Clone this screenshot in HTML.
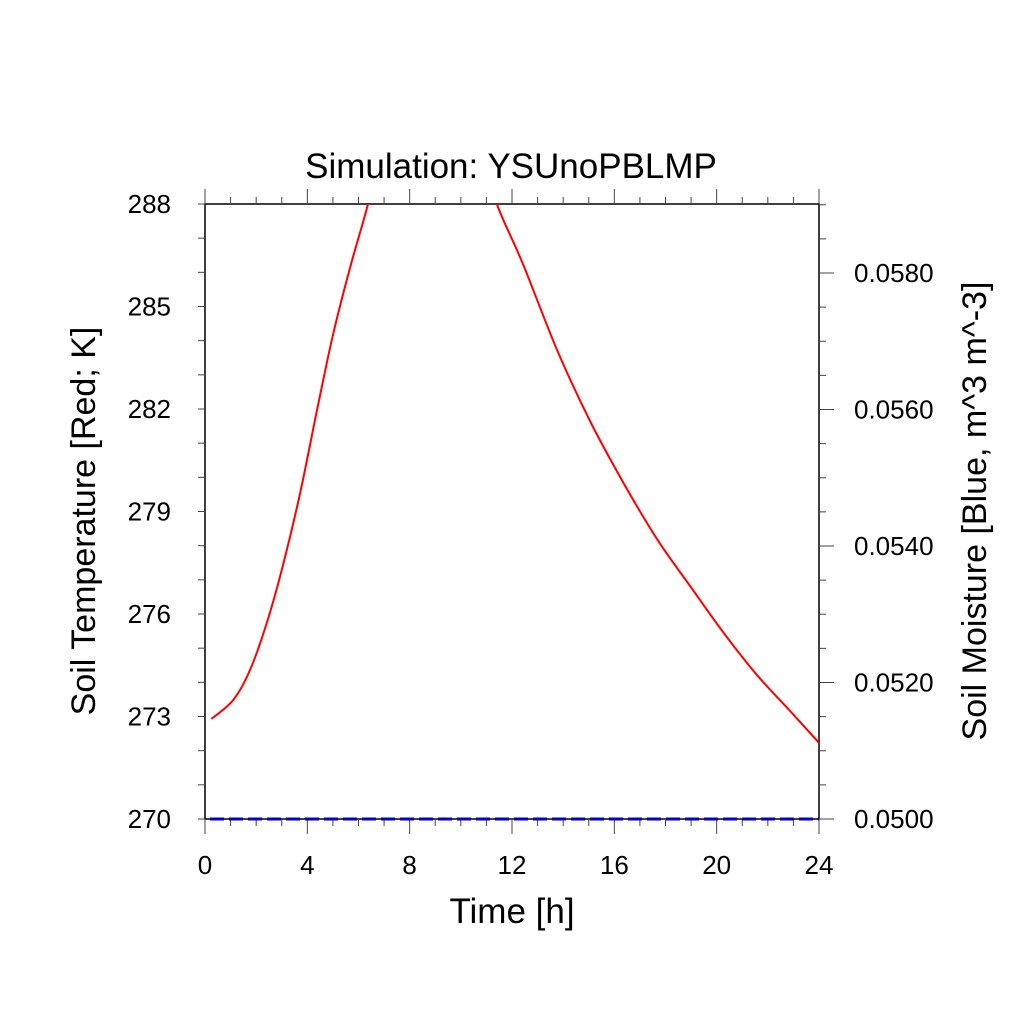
<!DOCTYPE html>
<html><head><meta charset="utf-8"><style>
html,body{margin:0;padding:0;background:#fff;}
text{font-family:"Liberation Sans",sans-serif;fill:#000;}
</style></head><body>
<svg id="chart" width="1024" height="1024" viewBox="0 0 1024 1024" xmlns="http://www.w3.org/2000/svg">
<rect width="1024" height="1024" fill="#fff"/>
<text x="511" y="178" font-size="35" text-anchor="middle">Simulation: YSUnoPBLMP</text>
<g id="axes"></g>
<g id="series"></g>
<text x="512" y="923" font-size="35" text-anchor="middle">Time [h]</text>
<text transform="translate(95,521) rotate(-90)" font-size="34" text-anchor="middle">Soil Temperature [Red; K]</text>
<text transform="translate(986,511) rotate(-90)" font-size="34" text-anchor="middle">Soil Moisture [Blue, m^3 m^-3]</text>
</svg>
<script>
const timeH = [0.25,1.1,1.76,2.42,3.05,3.71,4.38,5.0,5.67,6.37,7,8,9,10,11,11.41,12.43,13.76,15.05,16.34,17.67,18.96,20.25,21.58,22.87,24];
const soilTemp = [272.93,273.48,274.36,275.75,277.43,279.51,281.98,284.16,286.14,288.0,290.0,292.5,293.5,292.5,289.3,288.0,286.24,283.73,281.65,279.86,278.19,276.82,275.47,274.21,273.16,272.23];
const moistTime = [0,24];
const soilMoist = [0.0500,0.0500];
const xTicks = [0,4,8,12,16,20,24];
const yTicksL = [270,273,276,279,282,285,288];
const yTicksR = ["0.0500","0.0520","0.0540","0.0560","0.0580"];

const X0=205,X1=819,Y0=819,Y1=204;
const xs=t=>X0+(t/24)*(X1-X0);
const yL=v=>Y0-(v-270)/18*(Y0-Y1);
const RMAX=0.05+0.008*(Y0-Y1)/546;
const yR=v=>Y0-(v-0.05)/(RMAX-0.05)*(Y0-Y1);
const NS="http://www.w3.org/2000/svg";
const axes=document.getElementById('axes'), ser=document.getElementById('series');
function mk(tag,at,parent){const e=document.createElementNS(NS,tag);for(const k in at)e.setAttribute(k,at[k]);parent.appendChild(e);return e;}
function ln(x1,y1,x2,y2,w,c){return mk('line',{x1,y1,x2,y2,stroke:c||'#000','stroke-width':w||1.5},axes);}
const fr=mk('rect',{x:X0,y:Y1,width:X1-X0,height:Y0-Y1,fill:'none',stroke:'#000','stroke-width':1.5},axes);


for(let h=0;h<=24;h++){const x=xs(h);const L=(h%4===0)?15:7;ln(x,Y0,x,Y0+L,1,'#444');ln(x,Y1,x,Y1-L,1,'#444');}
xTicks.forEach(v=>{const t=mk('text',{x:xs(v),y:874,'font-size':26,'text-anchor':'middle'},axes);t.textContent=v;

});
for(let v=270;v<=288;v++){ln(X0,yL(v),X0-7,yL(v),1,'#444');}
yTicksL.forEach(v=>{const t=mk('text',{x:171,y:yL(v)+9,'font-size':26,'text-anchor':'end'},axes);t.textContent=v;

});
for(let i=0;i<=18;i++){const v=0.05+i*0.0005;if(v>RMAX+1e-9)break;const L=(i%4===0)?15:7;ln(X1,yR(v),X1+L,yR(v),1,'#444');}
yTicksR.forEach(s=>{const t=mk('text',{x:854,y:yR(parseFloat(s))+9,'font-size':26,'text-anchor':'start'},axes);t.textContent=s;

});
const defs=mk('defs',{},ser);const cp=mk('clipPath',{id:'pc'},defs);mk('rect',{x:X0,y:Y1,width:X1-X0,height:Y0-Y1},cp);
// smooth Catmull-Rom path
const P=timeH.map((t,i)=>[xs(t),yL(soilTemp[i])]);
let d='M'+P[0][0].toFixed(1)+','+P[0][1].toFixed(1);
for(let i=0;i<P.length-1;i++){
  const p0=P[Math.max(0,i-1)],p1=P[i],p2=P[i+1],p3=P[Math.min(P.length-1,i+2)];
  const c1=[p1[0]+(p2[0]-p0[0])/6,p1[1]+(p2[1]-p0[1])/6];
  const c2=[p2[0]-(p3[0]-p1[0])/6,p2[1]-(p3[1]-p1[1])/6];
  d+='C'+c1[0].toFixed(1)+','+c1[1].toFixed(1)+' '+c2[0].toFixed(1)+','+c2[1].toFixed(1)+' '+p2[0].toFixed(1)+','+p2[1].toFixed(1);
}
const red=mk('path',{d,fill:'none',stroke:'#f00','stroke-width':2,'clip-path':'url(#pc)'},ser);


let d2='';moistTime.forEach((t,i)=>{d2+=(i?'L':'M')+(xs(t)+(i?0:5)).toFixed(1)+','+yR(soilMoist[i]).toFixed(1);});
const blue=mk('path',{d:d2,fill:'none',stroke:'#0000cc','stroke-width':3,'stroke-dasharray':'14 5'},ser);


</script>
</body></html>
